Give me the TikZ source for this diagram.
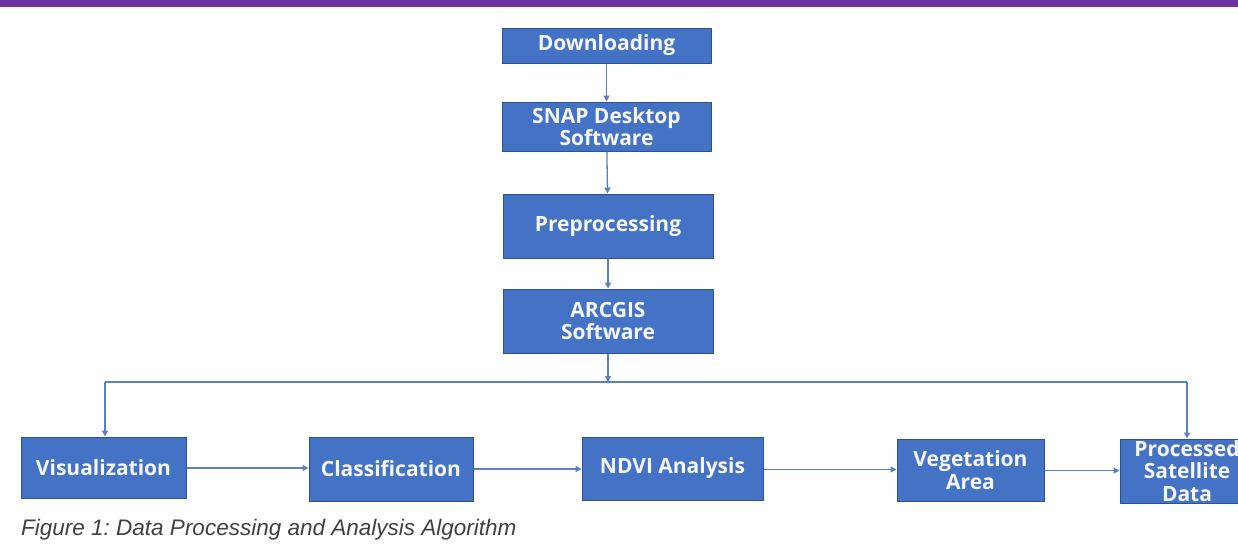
\documentclass[tikz,border=0pt]{standalone}
\usepackage{fontspec}
\setmainfont{Liberation Sans}
\newfontfamily\boxfont{Open Sans}
\usetikzlibrary{arrows.meta}
\frenchspacing
\definecolor{boxblue}{HTML}{4472C4}
\definecolor{boxedge}{HTML}{2F528F}
\definecolor{linkblue}{HTML}{5B7FC0}
\definecolor{topbar}{HTML}{7030A0}
\definecolor{captiongray}{HTML}{404040}
\tikzset{
  flowbox/.style={draw=boxedge, line width=1pt, fill=boxblue, text=white!94!gray,
    font=\boxfont\bfseries\fontsize{21}{22.5}\selectfont, align=center,
    inner sep=0pt, rectangle},
  link/.style={draw=linkblue, line width=1.3pt, -{Triangle[length=6pt,width=6pt]}},
  plainlink/.style={draw=linkblue, line width=1.3pt}
}
\begin{document}
\begin{tikzpicture}[x=1pt,y=-1pt]
\useasboundingbox (0,0) rectangle (1238,547);
\clip (0,0) rectangle (1238,547);
\fill[white] (0,0) rectangle (1238,547);
\fill[topbar] (0,0) rectangle (1238,7);

\node[flowbox, minimum width=209pt, minimum height=35pt] (dl) at (606.5,45.5) {Downloading};
\node[flowbox, minimum width=209pt, minimum height=49pt] (snap) at (606.5,126.5) {SNAP Desktop\\Software};
\node[flowbox, minimum width=210pt, minimum height=64pt] (pre) at (608,226) {Preprocessing};
\node[flowbox, minimum width=210pt, minimum height=64pt] (arc) at (608,321) {ARCGIS\\Software};

\node[flowbox, minimum width=165pt, minimum height=61pt] (vis) at (103.5,467.5) {Visualization};
\node[flowbox, minimum width=164pt, minimum height=64pt] (cls) at (391,469) {Classification};
\node[flowbox, minimum width=181pt, minimum height=63pt] (ndvi) at (672.5,468.5) {NDVI Analysis};
\node[flowbox, minimum width=147pt, minimum height=62pt] (veg) at (970.5,470) {Vegetation\\Area};
\node[flowbox, minimum width=134pt, minimum height=64pt] (proc) at (1187,471) {Processed\\Satellite\\Data};

\coordinate (junc) at (608,382);
\coordinate (lft) at (105,382);
\coordinate (rgt) at (1187,382);

\draw[link] (dl) -- (snap);
\draw[link] (snap) -- (pre);
\draw[link] (pre) -- (arc);
\draw[link] (arc) -- (junc);
\draw[plainlink] (lft) -- (rgt);
\draw[link] (lft) -- (vis.north -| lft);
\draw[link] (rgt) -- (proc.north);

\draw[link] (vis.east |- 0,468) -- (cls.west |- 0,468);
\draw[link] (cls.east |- 0,469) -- (ndvi.west |- 0,469);
\draw[link] (ndvi.east |- 0,469.5) -- (veg.west |- 0,469.5);
\draw[link] (veg.east |- 0,470.5) -- (proc.west |- 0,470.5);

\node[anchor=base west, inner sep=0pt, text=captiongray,
  font=\itshape\fontsize{22.5}{26}\selectfont] (cap) at (21,535)
  {Figure 1: Data Processing and Analysis Algorithm};
\end{tikzpicture}
\end{document}
